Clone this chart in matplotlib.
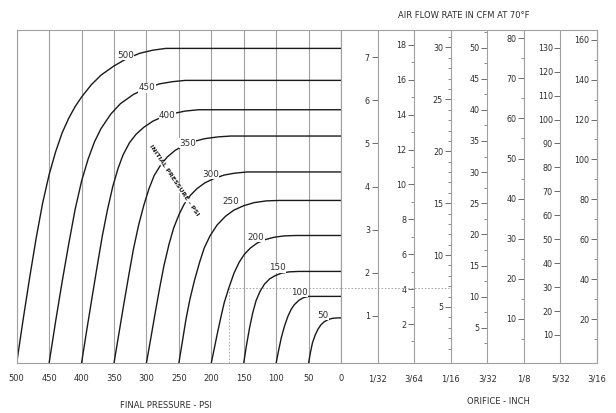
import numpy as np
import matplotlib
matplotlib.use('Agg')
from matplotlib import pyplot as plt
from matplotlib import transforms

plt.rcParams['font.family'] = ['DejaVu Sans']

# initial pressure curves: final pressure (psi) -> flow read on the 1/32" scale
initial_psi = [500, 450, 400, 350, 300, 250, 200, 150, 100, 50]
curve_psi = [
    [500, 490, 480, 470, 460, 450, 440, 430, 420, 410, 400, 385, 370, 350, 330, 310, 290, 270, 0],
    [450, 440, 430, 420, 410, 400, 390, 380, 370, 355, 340, 320, 300, 280, 260, 240, 0],
    [400, 392, 384, 376, 368, 360, 352, 344, 336, 326, 316, 304, 290, 275, 260, 240, 220, 0],
    [350, 343, 335, 327, 320, 312, 304, 296, 288, 278, 268, 256, 242, 226, 210, 190, 170, 0],
    [300, 294, 287, 280, 273, 265, 258, 250, 242, 232, 222, 210, 196, 180, 165, 145, 0],
    [250, 245, 239, 233, 226, 218, 211, 202, 191, 178, 165, 150, 134, 115, 95, 0],
    [200, 195, 190, 185, 180, 173, 165, 157, 149, 140, 129, 116, 103, 88, 70, 0],
    [150, 146, 141, 136, 131, 125, 118, 110, 102, 92, 80, 65, 0],
    [100, 96, 92, 87, 82, 77, 72, 65, 58, 50, 0],
    [50, 47, 44, 40, 36, 31, 26, 20, 13, 5, 0],
]
curve_flow = [
    [0, 1.0, 1.95, 2.85, 3.65, 4.30, 4.82, 5.25, 5.58, 5.85, 6.07, 6.35, 6.57, 6.78, 6.95, 7.07, 7.14, 7.18, 7.18],
    [0, 0.95, 1.85, 2.70, 3.50, 4.15, 4.65, 5.05, 5.35, 5.68, 5.92, 6.13, 6.27, 6.37, 6.42, 6.45, 6.45],
    [0, 0.75, 1.48, 2.20, 2.90, 3.50, 4.02, 4.43, 4.75, 5.03, 5.22, 5.38, 5.52, 5.62, 5.69, 5.75, 5.78, 5.78],
    [0, 0.62, 1.33, 2.02, 2.60, 3.15, 3.60, 3.98, 4.28, 4.52, 4.70, 4.85, 4.97, 5.06, 5.12, 5.16, 5.18, 5.18],
    [0, 0.50, 1.10, 1.68, 2.22, 2.72, 3.08, 3.38, 3.62, 3.83, 3.98, 4.11, 4.21, 4.29, 4.33, 4.36, 4.36],
    [0, 0.45, 1.00, 1.45, 1.88, 2.30, 2.62, 2.90, 3.15, 3.35, 3.49, 3.59, 3.66, 3.70, 3.71, 3.71],
    [0, 0.36, 0.72, 1.06, 1.38, 1.71, 2.05, 2.30, 2.48, 2.62, 2.74, 2.82, 2.87, 2.90, 2.91, 2.91],
    [0, 0.38, 0.80, 1.15, 1.42, 1.63, 1.80, 1.92, 1.99, 2.05, 2.08, 2.09, 2.09],
    [0, 0.30, 0.58, 0.85, 1.06, 1.22, 1.33, 1.43, 1.49, 1.52, 1.52],
    [0, 0.25, 0.46, 0.63, 0.76, 0.87, 0.94, 0.99, 1.02, 1.03, 1.03],
]
label_psi = [332, 299, 268, 237, 201, 170, 131, 98, 64, 28]
label_flow = [7.02, 6.28, 5.65, 5.02, 4.30, 3.69, 2.87, 2.17, 1.61, 1.09]

# example reading
example_final = 173
example_flow = 1.71

# orifice scales
orifices = ['1/32', '3/64', '1/16', '3/32', '1/8', '5/32', '3/16']
scale_factor = [1.0, 2.47, 4.15, 6.92, 10.75, 18.0, 21.6]
scale_top = [7, 18, 30, 50, 80, 130, 160]
major_step = [1, 2, 5, 5, 10, 10, 20]
minor_step = [0, 1, 1, 2.5, 5, 0, 10]

grid_col = '#a0a0a0'
ink = '#1a1a1a'
txt = '#2e2e2e'

fig = plt.figure(figsize=(6.16, 4.13), dpi=100)
ax_l = fig.add_axes([16.7/616, 50/413, 324.3/616, 333/413])
ax_r = fig.add_axes([341/616, 50/413, 256/616, 333/413])

# left: pressure chart
for i in range(len(initial_psi)):
    ax_l.plot(curve_psi[i], curve_flow[i], color=ink, lw=1.0, solid_joinstyle='round')
    ax_l.text(label_psi[i], label_flow[i], str(initial_psi[i]), fontsize=6.3, color=txt,
              ha='center', va='center',
              bbox=dict(fc='white', ec='none', pad=0.2))

ax_l.text(258, 4.18, 'INITIAL PRESSURE - PSI', fontsize=4.6, color=ink, rotation=-56,
          ha='center', va='center', fontweight='bold',
          bbox=dict(fc='white', ec='none', pad=0.1))

ax_l.plot([example_final, example_final], [0, example_flow], color=grid_col, lw=0.6, ls=(0, (2, 2)))
ax_l.plot([example_final, 0], [example_flow, example_flow], color=grid_col, lw=0.6, ls=(0, (2, 2)))

ax_l.set_xlim(500, 0)
ax_l.set_ylim(0, 7.6)
ax_l.set_xticks(np.arange(0, 501, 50))
ax_l.set_yticks([])
ax_l.grid(axis='x', color=grid_col, lw=0.8)
ax_l.set_axisbelow(True)
ax_l.tick_params(axis='x', length=0, pad=8, labelsize=6, labelcolor=txt)
for s in ax_l.spines.values():
    s.set_color(grid_col)
    s.set_linewidth(0.8)

# right: orifice scales
ax_r.set_xlim(0, 7)
ax_r.set_ylim(-0.095, 7.634)
ax_r.set_yticks([])
ax_r.set_xticks(range(1, 8), orifices)
ax_r.tick_params(axis='x', length=0, pad=8, labelsize=6, labelcolor=txt)
for s in ax_r.spines.values():
    s.set_color(grid_col)
    s.set_linewidth(0.8)

blend = transforms.blended_transform_factory(ax_r.transData, ax_l.transData)
ax_r.plot([0, 3], [example_flow, example_flow], transform=blend, color=grid_col,
          lw=0.6, ls=(0, (2, 2)), clip_on=False)

for i in range(len(orifices)):
    k = scale_factor[i]
    sec = ax_r.secondary_yaxis((i + 1) / 7, functions=(lambda y, k=k: y * k, lambda v, k=k: v / k))
    sec.set_alignment('left')
    sec.set_yticks(np.arange(major_step[i], scale_top[i] + 0.5, major_step[i]))
    if minor_step[i]:
        sec.set_yticks(np.arange(minor_step[i], scale_top[i] + major_step[i], minor_step[i]), minor=True)
    sec.tick_params(which='major', length=4, width=0.6, color='#555555', pad=1.5,
                    labelsize=5.8, labelcolor=txt)
    sec.tick_params(which='minor', length=2.5, width=0.6, color='#777777')
    sec.spines['left'].set_color(grid_col)
    sec.spines['left'].set_linewidth(0.8)

fig.text(464/616, 1 - 15/413, 'AIR FLOW RATE IN CFM AT 70\u00b0F', fontsize=6, color=txt,
         ha='center', va='center')
fig.text(166/616, 1 - 405/413, 'FINAL PRESSURE - PSI', fontsize=6, color=txt,
         ha='center', va='center')
fig.text(498/616, 1 - 402/413, 'ORIFICE - INCH', fontsize=6, color=txt,
         ha='center', va='center')

fig.savefig('out.png', dpi=100)
